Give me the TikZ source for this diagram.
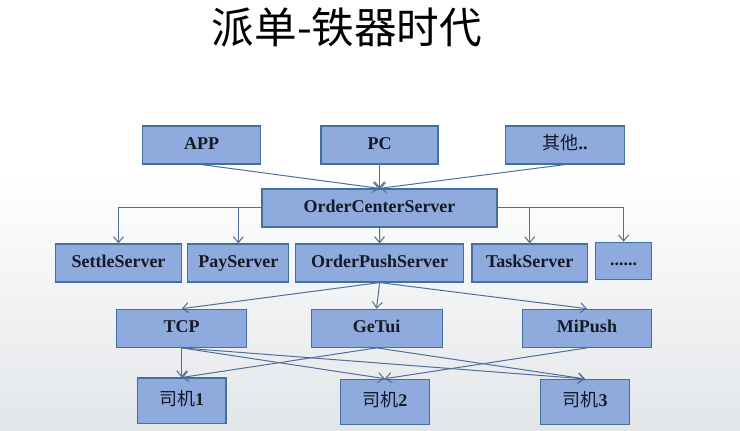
\documentclass[tikz,border=0pt]{standalone}
\usepackage{fontspec}
\setmainfont{Liberation Serif}
\newfontfamily\cjk{Noto Sans CJK SC}
\usetikzlibrary{arrows.meta,positioning}
\definecolor{boxfill}{HTML}{8FAADC}
\definecolor{boxline}{HTML}{41719C}
\definecolor{linkblue}{HTML}{4F6F9A}
\definecolor{bggray}{HTML}{E3E6E9}
\definecolor{boxtext}{HTML}{161A26}

\begin{document}
\begin{tikzpicture}[x=0.5pt,y=-0.5pt,>={Straight Barb[length=3pt,width=5pt]},
  srv/.style={draw=boxline,fill=boxfill,line width=0.6pt,minimum height=19pt,
    inner sep=0pt,text height=6.6pt,text depth=1.9pt,text=boxtext,
    font=\fontsize{9}{10}\selectfont\bfseries},
  drv/.style={srv,minimum width=44.3pt,minimum height=22.7pt},
  link/.style={->,draw=linkblue,line width=0.5pt}]
  % background
  \useasboundingbox (0,0) rectangle (740,431);
  \fill[white] (0,0) rectangle (740,431);
  \shade[top color=white,bottom color=bggray] (0,170) rectangle (740,431);
  \node (title) at (347,27) {\fontsize{21.3}{24}\selectfont\cjk 派单-铁器时代};
  % clients
  \node (app) [srv,minimum width=59pt] at (201.5,145) {APP};
  \node (pc) [srv,minimum width=58.5pt] at (379.5,145) {PC};
  \node (other) [srv,minimum width=59.5pt] at (565,145) {{\cjk\mdseries 其他}..};
  \node (ocs) [srv,minimum width=117.5pt] at (379.5,208) {OrderCenterServer};
  % servers
  \node (settle) [srv,minimum width=63.2pt] at (118.5,263) {SettleServer};
  \node (pay) [srv,minimum width=50.5pt] at (238.3,263) {PayServer};
  \node (ops) [srv,minimum width=84.2pt] at (379.6,263) {OrderPushServer};
  \node (task) [srv,minimum width=57.8pt] at (529.7,263) {TaskServer};
  \node (dots) [srv,minimum width=28pt,minimum height=18.5pt] at (623.6,260.8) {......};
  % push channels
  \node (tcp) [srv,minimum width=65pt] at (181.7,328.3) {TCP};
  \node (getui) [srv,minimum width=65.5pt] at (376.6,328.3) {GeTui};
  \node (mipush) [srv,minimum width=64.7pt] at (587,328.3) {MiPush};
  % drivers
  \node (d1) [drv] at (181.7,400.8) {{\cjk\mdseries 司机}1};
  \node (d2) [drv] at (384.8,402) {{\cjk\mdseries 司机}2};
  \node (d3) [drv] at (585,402.2) {{\cjk\mdseries 司机}3};
  % links
  \foreach \s in {app,pc,other} \draw[link] (\s.south) -- (ocs.north);
  \foreach \t in {settle,pay} \draw[link] (ocs.west) -| (\t.north);
  \foreach \t in {task,dots} \draw[link] (ocs.east) -| (\t.north);
  \draw[link] (ocs) -- (ops);
  \foreach \t in {tcp,getui,mipush} \draw[link] (ops.south) -- (\t.north);
  \foreach \t in {d1,d2,d3} \draw[link] (tcp.south) -- (\t.north);
  \foreach \t in {d1,d3} \draw[link] (getui.south) -- (\t.north);
  \draw[link] (mipush.south) -- (d2.north);
\end{tikzpicture}
\end{document}
